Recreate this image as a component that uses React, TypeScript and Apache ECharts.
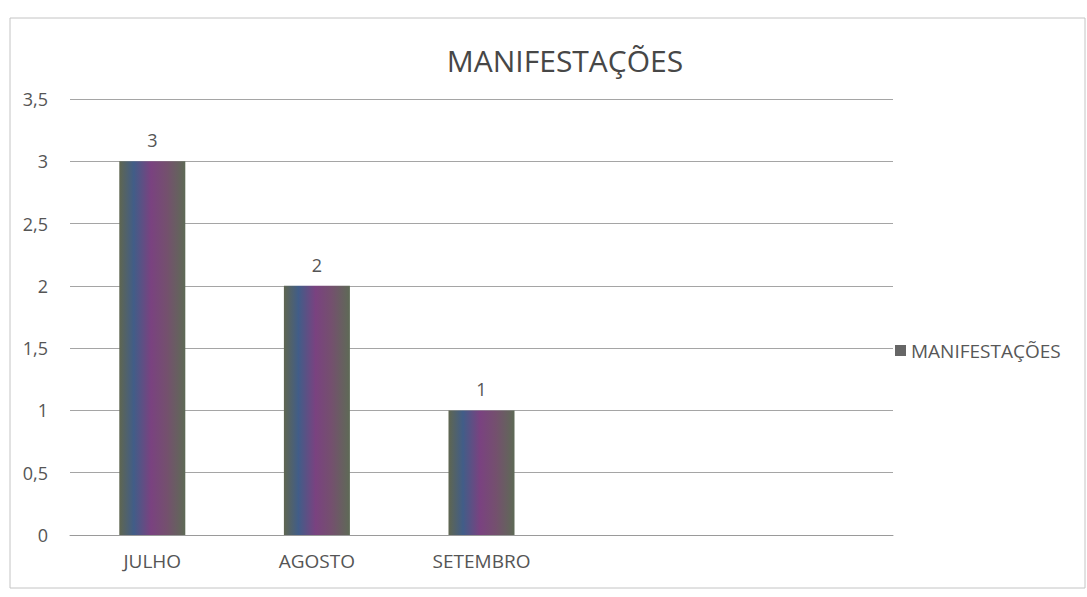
import React, { useEffect, useRef } from "react";
import * as echarts from "echarts";

const title = "MANIFESTAÇÕES";
const seriesName = "MANIFESTAÇÕES";
const categories = ["JULHO", "AGOSTO", "SETEMBRO", "", ""];
const values: (number | null)[] = [3, 2, 1, null, null];
const yMin = 0;
const yMax = 3.5;
const yStep = 0.5;

const FONT = "'Open Sans', 'Noto Sans', sans-serif";

export default function App() {
  const ref = useRef<HTMLDivElement>(null);
  useEffect(() => {
    document.body.style.margin = "0";
    if (!ref.current) return;
    const chart = echarts.init(ref.current, null, { renderer: "svg" });
    const barFill = new echarts.graphic.LinearGradient(0, 0, 1, 0, [
      { offset: 0, color: "#5f6650" },
      { offset: 0.22, color: "#415d88" },
      { offset: 0.48, color: "#7a4280" },
      { offset: 0.72, color: "#74506e" },
      { offset: 1, color: "#5e6a56" },
    ]);
    chart.setOption({
      animation: false,
      backgroundColor: "#ffffff",
      textStyle: { fontFamily: FONT },
      title: {
        text: title,
        left: 560,
        top: 40,
        textAlign: "center",
        textStyle: { fontFamily: FONT, fontSize: 30, fontWeight: "normal", color: "#474747" },
      },
      legend: {
        left: 890,
        top: 336,
        icon: "rect",
        itemWidth: 11,
        itemHeight: 11,
        itemGap: 6,
        textStyle: { fontFamily: FONT, fontSize: 19, color: "#575757" },
        data: [{ name: seriesName, itemStyle: { color: "#666666" } }],
      },
      graphic: [
        {
          type: "rect",
          shape: { x: 10, y: 18, width: 1075, height: 570 },
          style: { fill: "none", stroke: "#c4c4c4", lineWidth: 1 },
          silent: true,
        },
      ],
      grid: { left: 70, right: 194, top: 99, bottom: 62, containLabel: false },
      xAxis: {
        type: "category",
        data: categories,
        axisLine: { show: true, lineStyle: { color: "#9a9a9a", width: 1 } },
        axisTick: { show: false },
        axisLabel: { fontFamily: FONT, fontSize: 19, color: "#555555", margin: 16 },
      },
      yAxis: {
        type: "value",
        min: yMin,
        max: yMax,
        interval: yStep,
        axisLine: { show: false },
        axisTick: { show: false },
        splitLine: { lineStyle: { color: "#a5a5a5", width: 1 } },
        axisLabel: {
          fontFamily: FONT,
          fontSize: 18,
          color: "#555555",
          margin: 22,
          formatter: (v: number) => String(v).replace(".", ","),
        },
      },
      series: [
        {
          name: seriesName,
          type: "bar",
          data: values,
          barWidth: 66,
          itemStyle: { color: barFill },
          label: {
            show: true,
            position: "top",
            distance: 12,
            fontFamily: FONT,
            fontSize: 18,
            color: "#555555",
          },
        },
      ],
    });
    return () => chart.dispose();
  }, []);
  return <div ref={ref} style={{ width: 1087, height: 597 }} />;
}
